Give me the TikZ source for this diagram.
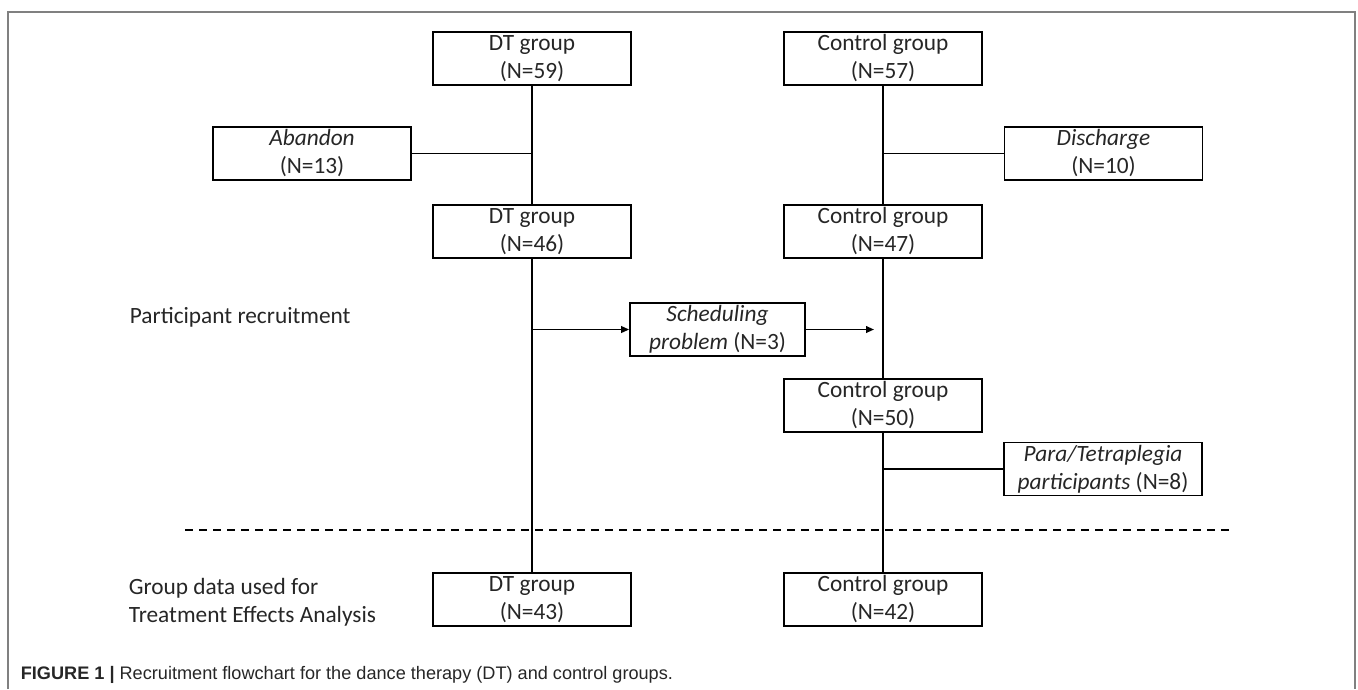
\documentclass[tikz,border=0pt]{standalone}
\usepackage{fontspec}
\setmainfont{Carlito}
\newfontfamily\capfont{Liberation Sans}
\usetikzlibrary{arrows.meta}

\tikzset{every picture/.style={line width=1.3pt}}
\tikzset{
  grpbox/.style={draw, minimum width=148.5pt, minimum height=39.75pt, inner sep=0pt, align=center, text=black!85, font=\fontsize{17.5}{21}\selectfont},
  lbltext/.style={inner sep=0pt, align=left, text=black!85, font=\fontsize{17.5}{21}\selectfont},
  pointer/.style={-{Triangle[length=6pt,width=5pt]}},
}

\begin{document}
\begin{tikzpicture}[x=0.75pt,y=0.75pt,yscale=-1,xscale=1]
    \useasboundingbox (0,0) rectangle (1358,689);

    %Shape: Frame
    \draw [color=black!50] (8,689) -- (8,12) -- (1355,12) -- (1355,689) ;

    %Shape: Rectangle (DT column)
    \node [grpbox] (dtA) at (532,58.5) {DT group\\(N=59)};
    \node [grpbox] (dtB) at (532,231.5) {DT group\\(N=46)};
    \node [grpbox] (dtD) at (532,599.5) {DT group\\(N=43)};
    %Shape: Rectangle (control column)
    \node [grpbox] (ctA) at (883,58.5) {Control group\\(N=57)};
    \node [grpbox] (ctB) at (883,231.5) {Control group\\(N=47)};
    \node [grpbox] (ctC) at (883,405.5) {Control group\\(N=50)};
    \node [grpbox] (ctD) at (883,599.5) {Control group\\(N=42)};
    %Shape: Rectangle (drop outs)
    \node [grpbox] (abandon) at (312,153.5) {\textit{Abandon}\\(N=13)};
    \node [grpbox] (discharge) at (1103.5,153.5) {\textit{Discharge}\\(N=10)};
    \node [grpbox, minimum width=131.25pt] (sched) at (717.5,329.5) {\textit{Scheduling}\\\textit{problem} (N=3)};
    \node [grpbox] (para) at (1103,469) {\textit{Para/Tetraplegia}\\\textit{participants} (N=8)};

    %Straight Lines
    \draw (dtA) -- (dtB) ;
    \draw (dtB) -- (dtD) ;
    \draw (ctA) -- (ctB) ;
    \draw (ctB) -- (ctC) ;
    \draw (ctC) -- (ctD) ;
    \draw (abandon.east) -- (abandon.east -| dtA.south) ;
    \draw (discharge.west) -- (discharge.west -| ctA.south) ;
    \draw (para.west) -- (para.west -| ctC.south) ;
    %Straight Lines with arrows
    \draw [pointer] (sched.west -| dtB.south) -- (sched.west) ;
    \draw [pointer, shorten >=6.75pt] (sched.east) -- (sched.east -| ctB.south) ;

    %Dashed separator
    \coordinate (sepL) at (185,530);
    \coordinate (sepR) at (1230,530);
    \draw [dash pattern=on 6pt off 4.5pt, line width=1pt] (sepL) -- (sepR) ;

    % Text Node
    \node [lbltext, anchor=west] (recruit) at (129,317) {Participant recruitment};
    % Text Node
    \node [lbltext, anchor=west] (analysis) at (128,602) {Group data used for\\Treatment Effects Analysis};
    % Text Node
    \node [inner sep=0pt, anchor=west, text=black!85, font=\capfont\fontsize{13.6}{15}\selectfont] (caption) at (20,675) {\textbf{FIGURE 1 |} Recruitment flowchart for the dance therapy (DT) and control groups.};
\end{tikzpicture}
\end{document}
